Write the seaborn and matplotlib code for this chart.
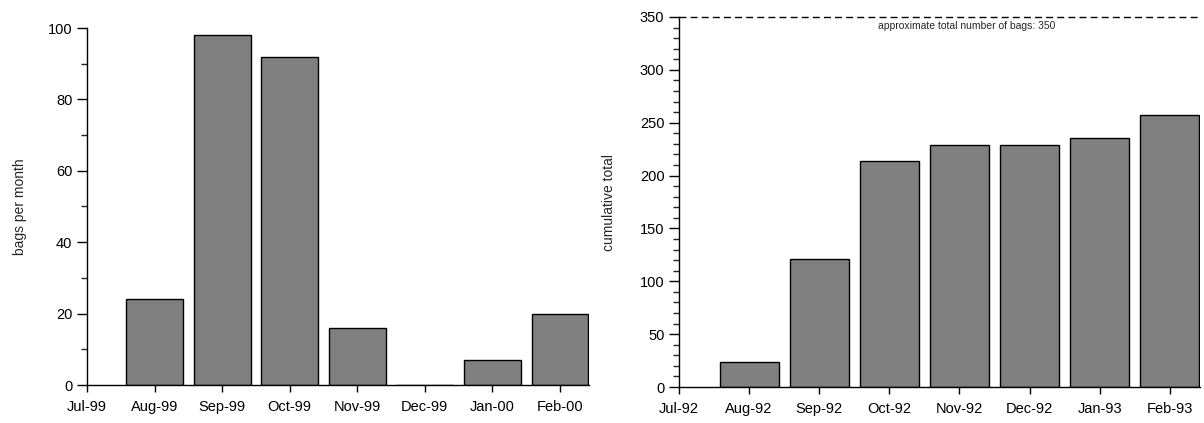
import matplotlib
matplotlib.use("Agg")
import matplotlib.pyplot as plt
from matplotlib.ticker import MultipleLocator
import seaborn as sns
import pandas as pd

left_months = ["Jul-99", "Aug-99", "Sep-99", "Oct-99", "Nov-99", "Dec-99", "Jan-00", "Feb-00"]
left_values = [None, 24, 98, 92, 16, 0, 7, 20]

right_months = ["Jul-92", "Aug-92", "Sep-92", "Oct-92", "Nov-92", "Dec-92", "Jan-93", "Feb-93"]
right_values = [None, 24, 121, 214, 229, 229, 236, 257]

total_bags = 350

sns.set_theme(style="ticks")
plt.rcParams["font.family"] = ["Liberation Sans", "DejaVu Sans"]

fig = plt.figure(figsize=(12.04, 4.23), dpi=100)
ax1 = fig.add_axes([87 / 1204, 38 / 423, 502 / 1204, 357 / 423])
ax2 = fig.add_axes([679 / 1204, 36 / 423, 521 / 1204, 370 / 423])

def draw(ax, months, values, ylabel, pad):
    df = pd.DataFrame({"month": months, "value": values}).dropna()
    sns.barplot(data=df, x="month", y="value", order=months, ax=ax,
                color="#808080", saturation=1, width=0.84,
                edgecolor="black", linewidth=1.0)
    ax.set_xlim(0, 7.43)
    ax.set_xlabel("")
    ax.set_ylabel(ylabel, fontsize=10, labelpad=pad)
    for s in ["top", "right"]:
        ax.spines[s].set_visible(False)
    for s in ["left", "bottom"]:
        ax.spines[s].set_linewidth(1.0)
        ax.spines[s].set_color("black")
    ax.tick_params(axis="both", labelsize=10.5, colors="black", direction="out")
    ax.tick_params(axis="y", which="major", length=7, width=1)
    ax.tick_params(axis="y", which="minor", length=4, width=1)
    ax.tick_params(axis="x", which="major", length=5, width=1, pad=6)

draw(ax1, left_months, left_values, "bags per month", 15)
ax1.set_ylim(0, 100)
ax1.yaxis.set_major_locator(MultipleLocator(20))
ax1.yaxis.set_minor_locator(MultipleLocator(10))

draw(ax2, right_months, right_values, "cumulative total", 17)
ax2.set_ylim(0, 350)
ax2.yaxis.set_major_locator(MultipleLocator(50))
ax2.yaxis.set_minor_locator(MultipleLocator(10))
ax2.axhline(total_bags, color="black", linestyle=(0, (5, 3)), linewidth=1.0, clip_on=False)
ax2.text(4.1, total_bags - 4, "approximate total number of bags: %d" % total_bags,
         ha="center", va="top", fontsize=7.5)

fig.savefig("out.png", dpi=100)
